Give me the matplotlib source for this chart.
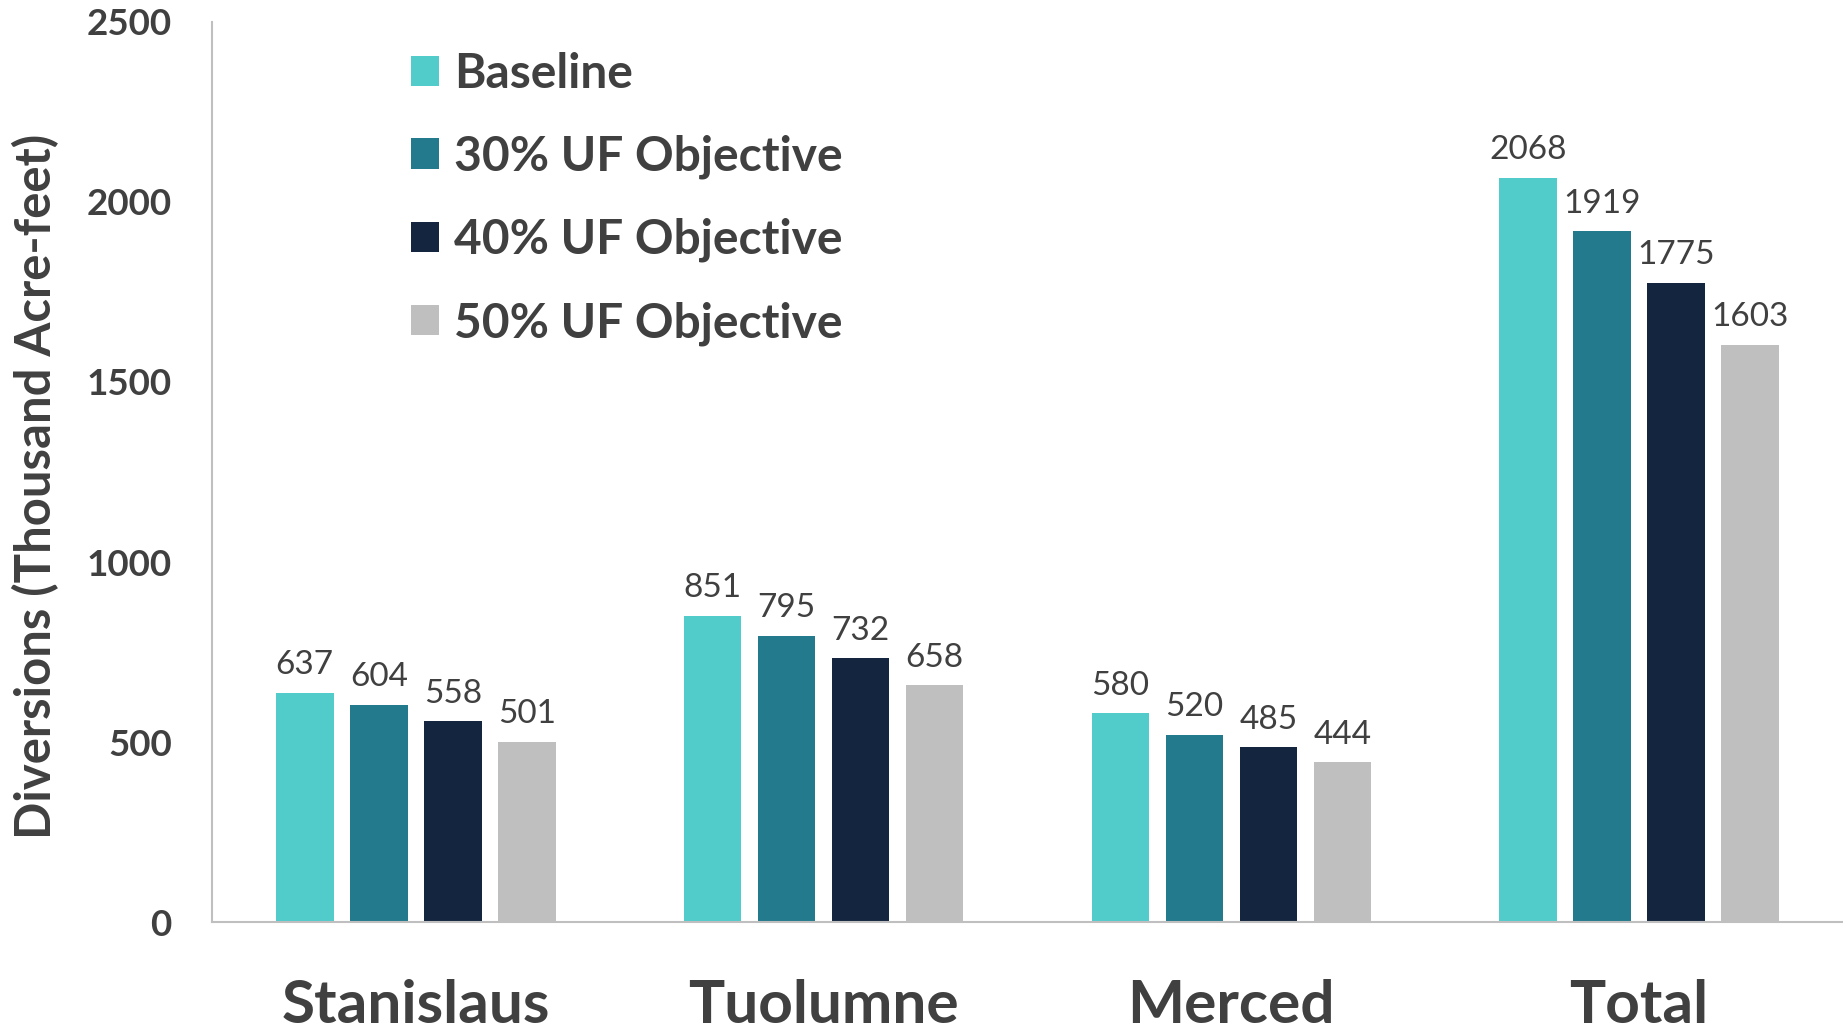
import matplotlib
matplotlib.use("Agg")
import matplotlib.pyplot as plt
import numpy as np

plt.rcParams['font.family'] = ['Lato', 'DejaVu Sans']

categories = ["Stanislaus", "Tuolumne", "Merced", "Total"]
series_names = ["Baseline", "30% UF Objective", "40% UF Objective", "50% UF Objective"]
baseline = [637, 851, 580, 2068]
uf30 = [604, 795, 520, 1919]
uf40 = [558, 732, 485, 1775]
uf50 = [501, 658, 444, 1603]
yticks = [0, 500, 1000, 1500, 2000, 2500]

series = [baseline, uf30, uf40, uf50]
colors = ["#52CBCB", "#237A8C", "#13253F", "#BFBFBF"]
text_color = "#404040"

fig = plt.figure(figsize=(18.43, 10.31), dpi=100)
ax = fig.add_axes([212/1843, 1 - 922/1031, 1 - 212/1843, (922 - 22)/1031])

x = np.arange(len(categories))
pitch = 0.1816
width = 0.141
for i, (vals, name, c) in enumerate(zip(series, series_names, colors)):
    offs = (i - 1.5) * pitch
    bars = ax.bar(x + offs, vals, width=width, color=c, label=name)
    ax.bar_label(bars, labels=[str(v) for v in vals], padding=9,
                 fontsize=24, color=text_color)

ax.set_xlim(-0.5, 3.5)
ax.set_ylim(0, 2500)
ax.set_yticks(yticks)
ax.set_yticklabels([str(t) for t in yticks])
ax.set_xticks(x)
ax.set_xticklabels(categories)

for lab in ax.get_yticklabels():
    lab.set_fontsize(26.5)
    lab.set_fontweight('bold')
    lab.set_color(text_color)
for lab in ax.get_xticklabels():
    lab.set_fontsize(43.5)
    lab.set_fontweight('bold')
    lab.set_color(text_color)

ax.tick_params(axis='y', length=0, pad=29)
ax.tick_params(axis='x', length=0, pad=41)

for s in ['top', 'right']:
    ax.spines[s].set_visible(False)
for s in ['left', 'bottom']:
    ax.spines[s].set_color('#BFBFBF')
    ax.spines[s].set_linewidth(1.5)

ax.set_ylabel("Diversions (Thousand Acre-feet)", fontsize=35.3, fontweight='bold',
              color=text_color)
ax.yaxis.set_label_coords(-0.094, 0.484)

leg = ax.legend(loc='upper left', bbox_to_anchor=((381 - 212)/1631, 1.0),
                frameon=False, fontsize=34.5, handlelength=0.6, handleheight=0.6,
                handletextpad=0.3, labelspacing=0.81, borderaxespad=0.22)
for t in leg.get_texts():
    t.set_fontweight('bold')
    t.set_color(text_color)

fig.savefig("out.png", dpi=100)
